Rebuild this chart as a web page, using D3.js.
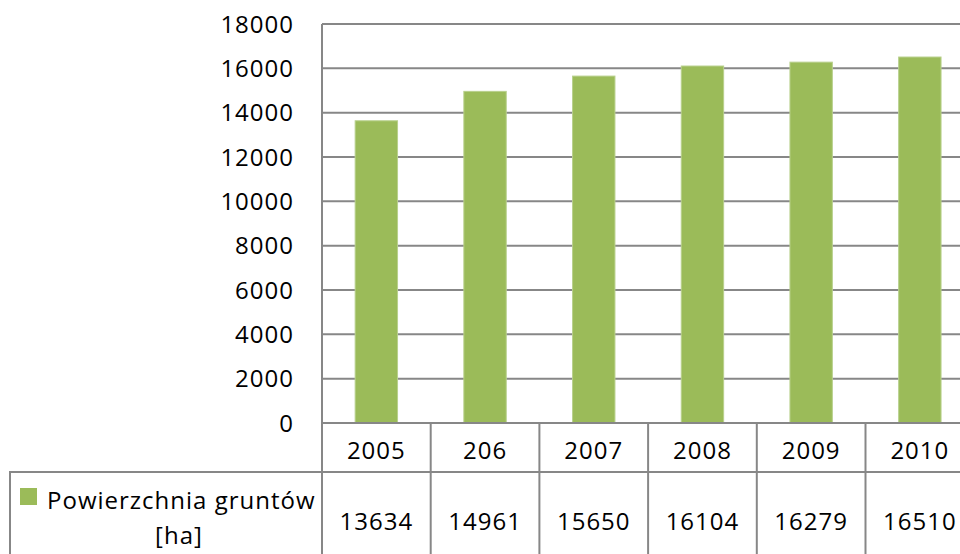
<!DOCTYPE html>
<html>
<head>
<meta charset="utf-8">
<script src="https://cdn.jsdelivr.net/npm/d3@7"></script>
<style>
  body { margin: 0; background: #fff; }
  svg { display: block; }
  text { font-family: "Open Sans", sans-serif; font-size: 24px; letter-spacing: 1px; fill: #000; }
</style>
</head>
<body>
<div id="chart"></div>
<script>
const years = ["2005", "206", "2007", "2008", "2009", "2010"];
const values = [13634, 14961, 15650, 16104, 16279, 16510];
const yTicks = [0, 2000, 4000, 6000, 8000, 10000, 12000, 14000, 16000, 18000];
const seriesName = ["Powierzchnia gruntów", "[ha]"];

const width = 960, height = 554;
const plotLeft = 322, plotTop = 24, plotBottom = 423; // plot area
const step = 108.7;
const rowSplit = 472; // line between header row and value row
const legendLeft = 10;
const gridColor = "#878787";
const barColor = "#9bbb59";

var svg = d3.select("#chart").append("svg")
  .attr("width", width).attr("height", height);

var x = d3.scaleBand().domain(years)
  .range([plotLeft, plotLeft + step * years.length])
  .paddingInner(0).paddingOuter(0);
var y = d3.scaleLinear().domain([0, 18000]).range([plotBottom, plotTop]);

// gridlines
svg.append("g").selectAll("line")
  .data(yTicks.filter(d => d > 0))
  .enter().append("line")
  .attr("x1", plotLeft).attr("x2", width)
  .attr("y1", d => y(d)).attr("y2", d => y(d))
  .attr("stroke", gridColor).attr("stroke-width", 2);

// y labels
svg.append("g").selectAll("text")
  .data(yTicks)
  .enter().append("text")
  .attr("x", 294)
  .attr("y", d => y(d))
  .attr("dy", "0.36em")
  .attr("text-anchor", "end")
  .text(d => d);

// bars
var barW = x.bandwidth() * 0.39;
svg.append("g").selectAll("rect")
  .data(values)
  .enter().append("rect")
  .attr("x", (d, i) => x(years[i]) + (x.bandwidth() - barW) / 2)
  .attr("width", barW)
  .attr("y", d => y(d))
  .attr("height", d => y(0) - y(d))
  .attr("fill", barColor)
  .attr("stroke", "#b8d08c")
  .attr("stroke-width", 1);

// table lines
var table = svg.append("g")
  .attr("stroke", gridColor).attr("stroke-width", 2);
table.append("line") // x axis / table top
  .attr("x1", plotLeft).attr("x2", width)
  .attr("y1", y(0)).attr("y2", y(0));
table.append("line")
  .attr("x1", legendLeft - 1).attr("x2", width)
  .attr("y1", rowSplit).attr("y2", rowSplit);
table.append("line") // value axis
  .attr("x1", plotLeft).attr("x2", plotLeft)
  .attr("y1", plotTop).attr("y2", height);
table.append("line")
  .attr("x1", legendLeft).attr("x2", legendLeft)
  .attr("y1", rowSplit).attr("y2", height);
table.selectAll(".sep")
  .data(years.slice(1))
  .enter().append("line")
  .attr("class", "sep")
  .attr("x1", d => x(d)).attr("x2", d => x(d))
  .attr("y1", y(0)).attr("y2", height);

// header row: categories
svg.append("g").selectAll("text")
  .data(years)
  .enter().append("text")
  .attr("x", d => x(d) + x.bandwidth() / 2)
  .attr("y", 459)
  .attr("text-anchor", "middle")
  .text(d => d);

// value row
svg.append("g").selectAll("text")
  .data(values)
  .enter().append("text")
  .attr("x", (d, i) => x(years[i]) + x.bandwidth() / 2)
  .attr("y", 530)
  .attr("text-anchor", "middle")
  .text(d => d);

// legend cell
var legend = svg.append("g");
legend.append("rect")
  .attr("x", 20).attr("y", 488)
  .attr("width", 17).attr("height", 17)
  .attr("fill", barColor);
legend.append("text")
  .attr("x", 47).attr("y", 509)
  .text(seriesName[0]);
legend.append("text")
  .attr("x", 179).attr("y", 544)
  .attr("text-anchor", "middle")
  .text(seriesName[1]);
</script>
</body>
</html>
